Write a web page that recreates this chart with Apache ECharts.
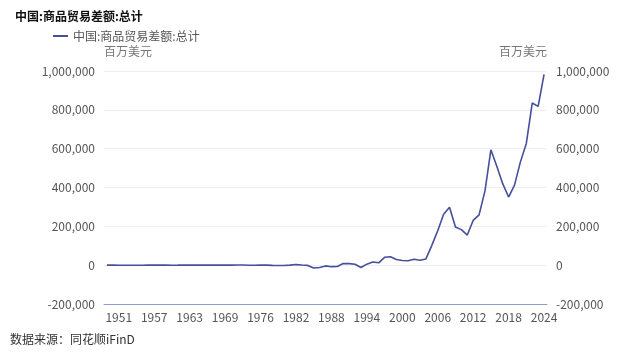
<!DOCTYPE html>
<html>
<head>
<meta charset="utf-8">
<script src="https://cdn.jsdelivr.net/npm/echarts@6/dist/echarts.min.js"></script>
<style>
html,body{margin:0;padding:0;background:#fff;}
#c{width:640px;height:355px;}
</style>
</head>
<body>
<div id="c"></div>
<script>
const years = ['1949','1950','1951','1952','1953','1954','1955','1956','1957','1958','1959','1960','1961','1962','1963','1964','1965','1966','1967','1968','1969','1971','1972','1973','1974','1975','1976','1977','1978','1979','1980','1981','1982','1983','1984','1985','1986','1987','1988','1989','1990','1991','1992','1993','1994','1995','1996','1997','1998','1999','2000','2001','2002','2003','2004','2005','2006','2007','2008','2009','2010','2011','2012','2013','2014','2015','2016','2017','2018','2019','2020','2021','2022','2023','2024'];
const balance = [-20,-31,-441,-295,-324,-141,-321,82,91,91,141,-97,46,317,383,369,211,118,115,153,379,431,585,662,-670,-222,277,376,-1148,-2017,-1898,-8,3036,836,-1271,-14900,-11970,-3780,-7750,-6600,8740,8050,4350,-12220,5350,16700,12240,40420,43470,29230,24110,22550,30430,25470,32100,102000,177500,262200,298100,196100,183100,155100,230300,259000,382500,593900,509700,419600,350900,412000,532000,627000,835000,818000,983000];
const seriesName = '中国:商品贸易差额:总计';
const unitName = '百万美元';
const yMin = -200000, yMax = 1000000, yStep = 200000;

const font = '"Noto Sans CJK SC", "Noto Sans", sans-serif';
const chart = echarts.init(document.getElementById('c'), null, {renderer: 'canvas'});
const yAxisBase = {
  type: 'value', min: yMin, max: yMax, interval: yStep,
  name: unitName, nameLocation: 'end', nameGap: 14,
  axisLine: {show: false}, axisTick: {show: false},
  axisLabel: {color: '#555', fontSize: 12, fontFamily: font, margin: 9,
    formatter: v => v.toLocaleString('en-US')},
};
chart.setOption({
  animation: false,
  textStyle: {fontFamily: font},
  title: {text: seriesName, left: 10, top: 5,
    textStyle: {fontSize: 12, fontWeight: 'bold', color: '#111', fontFamily: font}},
  legend: {left: 48, top: 25, icon: 'rect', itemWidth: 15, itemHeight: 2, itemGap: 4,
    textStyle: {fontSize: 12, color: '#555', fontFamily: font},
    data: [seriesName]},
  grid: {left: 104, right: 93, top: 71, bottom: 51, containLabel: false},
  xAxis: {
    type: 'category', data: years, boundaryGap: true,
    axisLine: {onZero: false, lineStyle: {color: '#8d9fd2', width: 1}},
    axisTick: {show: false},
    axisLabel: {color: '#555', fontSize: 12, fontFamily: font, margin: 7,
      interval: (i) => i % 6 === 2}
  },
  yAxis: [
    Object.assign({}, yAxisBase, {position: 'left',
      nameTextStyle: {color: '#777', fontSize: 12, fontFamily: font, align: 'left'},
      splitLine: {lineStyle: {color: '#eeeff6', width: 1}}}),
    Object.assign({}, yAxisBase, {position: 'right',
      nameTextStyle: {color: '#777', fontSize: 12, fontFamily: font, align: 'right'},
      splitLine: {show: false}})
  ],
  series: [{
    name: seriesName, type: 'line', data: balance, yAxisIndex: 0,
    symbol: 'none', smooth: false,
    lineStyle: {color: '#44509a', width: 1.6},
    itemStyle: {color: '#44509a'}
  }],
  graphic: [{type: 'text', left: 10, top: 333,
    style: {text: '数据来源：同花顺iFinD', fill: '#333', fontSize: 12, fontFamily: font}}]
});
</script>
</body>
</html>
